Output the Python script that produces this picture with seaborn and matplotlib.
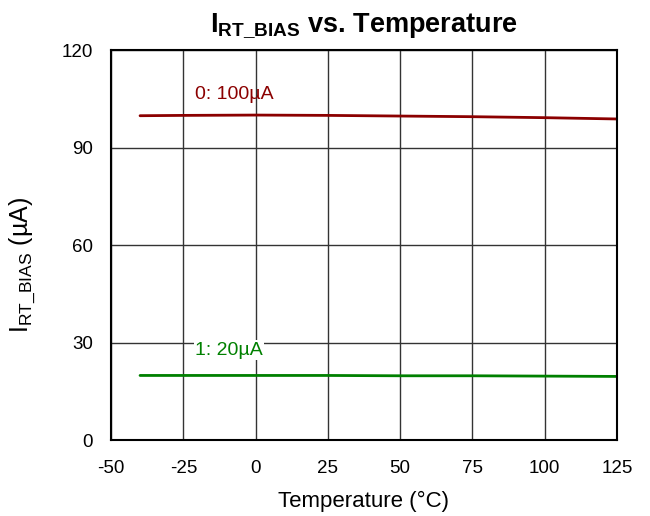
import numpy as np
import pandas as pd
import matplotlib
matplotlib.use("Agg")
import matplotlib.pyplot as plt
import seaborn as sns

# data
temp = [-40, -25, 0, 25, 50, 75, 100, 125]
i_100 = [99.8, 99.9, 100.0, 99.9, 99.7, 99.5, 99.2, 98.8]
i_20 = [19.9, 19.9, 19.9, 19.9, 19.8, 19.8, 19.7, 19.6]
series = ["0: 100µA", "1: 20µA"]
colors = ["#8b0000", "#008000"]
x_ticks = [-50, -25, 0, 25, 50, 75, 100, 125]
y_ticks = [0, 30, 60, 90, 120]

df = pd.DataFrame({
    "temp": temp * 2,
    "current": i_100 + i_20,
    "series": [series[0]] * len(temp) + [series[1]] * len(temp),
})

sns.set_style("white")
plt.rcParams["font.family"] = ["Liberation Sans", "DejaVu Sans"]
plt.rcParams["mathtext.default"] = "regular"
plt.rcParams["axes.unicode_minus"] = False
plt.rcParams["text.color"] = "black"
plt.rcParams["axes.labelcolor"] = "black"
plt.rcParams["xtick.color"] = "black"
plt.rcParams["ytick.color"] = "black"

fig = plt.figure(figsize=(6.5, 5.16), dpi=100)
ax = fig.add_axes([0.171, 0.147, 0.778, 0.756])

sns.lineplot(data=df, x="temp", y="current", hue="series", palette=colors,
             linewidth=2, legend=False, ax=ax)

ax.set_xlim(-50, 125)
ax.set_ylim(0, 120)
ax.set_xticks(x_ticks)
ax.set_yticks(y_ticks)
ax.tick_params(labelsize=13.5, length=0)
ax.tick_params(axis="y", pad=13)
ax.tick_params(axis="x", pad=14)
ax.grid(True, color="#333333", linewidth=1)
ax.set_axisbelow(True)
for s in ax.spines.values():
    s.set_color("black")
    s.set_linewidth(1.5)

# series labels, the lower one on a white patch over the grid line
ax.text(-21, 106.2, series[0], color=colors[0], fontsize=14, ha="left", va="center")
ax.text(-21, 27.7, series[1], color=colors[1], fontsize=14, ha="left", va="center",
        bbox=dict(facecolor="white", edgecolor="none", pad=1))

ax.set_xlabel("Temperature (°C)", fontsize=16, labelpad=10)
ax.set_ylabel("I$_{RT\\_BIAS}$ (µA)", fontsize=18)
ax.yaxis.set_label_coords(-0.146, 0.449)
ax.set_title("I$_{RT\\_BIAS}$ vs. Temperature", fontsize=19.5, fontweight="bold", pad=13)

fig.savefig("out.png", dpi=100)
